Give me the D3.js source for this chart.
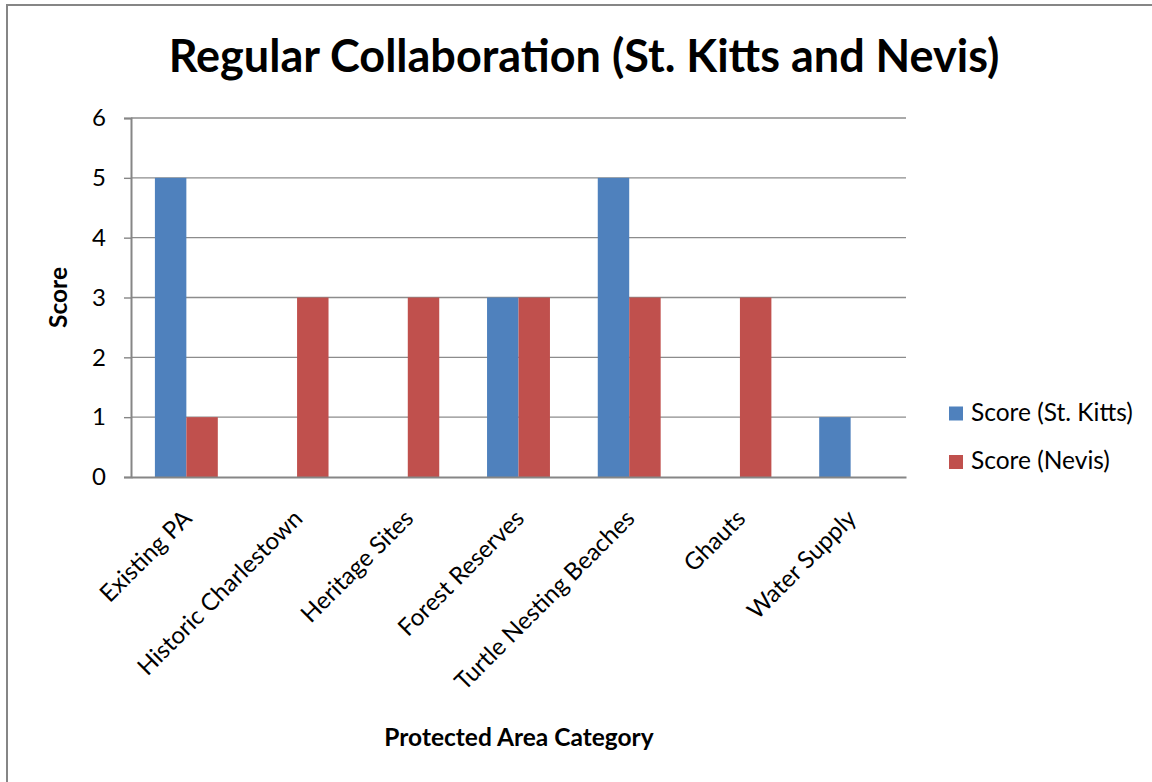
<!DOCTYPE html>
<html>
<head>
<meta charset="utf-8">
<script src="https://cdn.jsdelivr.net/npm/d3@7"></script>
<style>
  html, body { margin: 0; padding: 0; background: #ffffff; }
  svg { display: block; font-family: Lato, "Open Sans", sans-serif; }
</style>
</head>
<body>
<svg id="chart" width="1152" height="782"></svg>
<script>
// Protected area categories and their collaboration scores
const categories = ["Existing PA", "Historic Charlestown", "Heritage Sites", "Forest Reserves",
                    "Turtle Nesting Beaches", "Ghauts", "Water Supply"];
const seriesNames = ["Score (St. Kitts)", "Score (Nevis)"];
const scoreStKitts = [5, 0, 0, 3, 5, 0, 1];
const scoreNevis   = [1, 3, 3, 3, 3, 3, 0];
const yTicks = [0, 1, 2, 3, 4, 5, 6];
const seriesColors = ["#4F81BD", "#C0504D"];

const chartTitle = "Regular Collaboration (St. Kitts and Nevis)";
const xTitle = "Protected Area Category";
const yTitle = "Score";

const svg = d3.select("#chart");

// outer chart border
svg.append("rect")
  .attr("x", 7).attr("y", 5).attr("width", 1200).attr("height", 820)
  .attr("fill", "#ffffff").attr("stroke", "#868686").attr("stroke-width", 2);

const plot = { left: 131, right: 906, top: 118, bottom: 477 };

const x0 = d3.scaleBand().domain(categories).range([plot.left, plot.right]).padding(0);
const x1 = d3.scaleBand().domain(seriesNames).range([0, x0.bandwidth()])
  .paddingInner(0).paddingOuter(0.76);
const y = d3.scaleLinear().domain([0, 6]).range([plot.bottom, plot.top]);

// horizontal gridlines
svg.append("g")
  .selectAll("line").data(yTicks.filter(d => d > 0)).join("line")
  .attr("x1", plot.left).attr("x2", plot.right)
  .attr("y1", d => y(d)).attr("y2", d => y(d))
  .attr("stroke", "#8c8c8c").attr("stroke-width", 1.4);

// bars
const rows = categories.map((c, i) => ({ cat: c, vals: [scoreStKitts[i], scoreNevis[i]] }));
const groups = svg.append("g").selectAll("g").data(rows).join("g")
  .attr("transform", d => `translate(${x0(d.cat)},0)`);
groups.selectAll("rect")
  .data(d => d.vals.map((v, k) => ({ key: seriesNames[k], v, k })))
  .join("rect")
  .attr("x", d => x1(d.key))
  .attr("width", x1.bandwidth())
  .attr("y", d => y(d.v))
  .attr("height", d => y(0) - y(d.v))
  .attr("fill", d => seriesColors[d.k]);

// y axis
const yAxis = d3.axisLeft(y).tickValues(yTicks).tickSize(7).tickPadding(18).tickFormat(d3.format("d"));
const yg = svg.append("g").attr("transform", `translate(${plot.left},0)`).call(yAxis);
yg.select(".domain").attr("stroke", "#868686").attr("stroke-width", 2);
yg.selectAll(".tick line").attr("stroke", "#868686").attr("stroke-width", 1.4);
yg.selectAll(".tick text").attr("font-size", 24).attr("fill", "#000")
  .attr("font-family", "Lato, sans-serif");

// x axis baseline with rotated category labels
const xAxis = d3.axisBottom(x0).tickSize(0).tickPadding(0);
const xg = svg.append("g").attr("transform", `translate(0,${plot.bottom})`).call(xAxis);
xg.select(".domain").attr("stroke", "#868686").attr("stroke-width", 2);
xg.selectAll(".tick text")
  .attr("font-size", 24).attr("fill", "#000").attr("font-family", "Lato, sans-serif")
  .attr("text-anchor", "end")
  .attr("dy", 0).attr("y", 0)
  .attr("transform", "translate(7,43) rotate(-45)");

// titles
svg.append("text")
  .attr("x", 584).attr("y", 72).attr("text-anchor", "middle")
  .attr("font-size", 45).attr("font-weight", "bold").attr("fill", "#000")
  .text(chartTitle);

svg.append("text")
  .attr("x", 519).attr("y", 746).attr("text-anchor", "middle")
  .attr("font-size", 24.5).attr("font-weight", "bold").attr("fill", "#000")
  .text(xTitle);

svg.append("text")
  .attr("transform", "translate(67,297.5) rotate(-90)").attr("text-anchor", "middle")
  .attr("font-size", 24.5).attr("font-weight", "bold").attr("fill", "#000")
  .text(yTitle);

// legend
const legend = svg.append("g").selectAll("g").data(seriesNames).join("g")
  .attr("transform", (d, i) => `translate(949,${406.5 + i * 48.5})`);
legend.append("rect").attr("width", 14).attr("height", 14)
  .attr("fill", (d, i) => seriesColors[i]);
legend.append("text").attr("x", 22).attr("y", 14)
  .attr("font-size", 24.5).attr("fill", "#000").text(d => d);
</script>
</body>
</html>
